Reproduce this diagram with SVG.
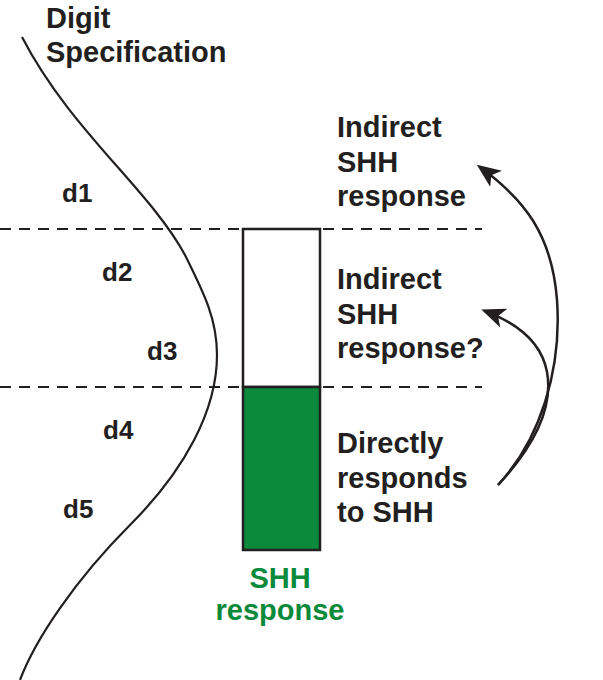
<svg xmlns="http://www.w3.org/2000/svg" width="603" height="680" viewBox="0 0 603 680">
<style>
text{font-family:"Liberation Sans",Arial,sans-serif;font-weight:bold;fill:#231f20}
.lbl{font-size:29px}
.d{font-size:26px}
.green{fill:#0b8a3c}
.dash{stroke:#231f20;stroke-width:2;stroke-dasharray:11 8;fill:none}
.conn{stroke:#231f20;stroke-width:2.5;fill:none}
</style>
<defs>
<marker id="ah" viewBox="0 0 24 20" refX="20" refY="10" markerWidth="24" markerHeight="20" markerUnits="userSpaceOnUse" orient="auto">
<path d="M0,0 L24,10 L0,20 L6,10 Z" fill="#231f20"/>
</marker>
</defs>
<g id="curve">
<path d="M22,37 C70,130 150,190 185,255 C205,295 217,320 217,355 C217,410 185,470 130,525 S35,640 20,680" fill="none" stroke="#231f20" stroke-width="2.2"/>
</g>
<g id="title">
<text class="lbl" x="46" y="28">Digit</text>
<text class="lbl" x="46" y="62">Specification</text>
</g>
<g id="digits">
<text class="d" x="62" y="202">d1</text>
<text class="d" x="102" y="281">d2</text>
<text class="d" x="147" y="360">d3</text>
<text class="d" x="103" y="439">d4</text>
<text class="d" x="63" y="518">d5</text>
</g>
<g id="bar">
<rect x="243" y="229" width="77" height="158" fill="#fff" stroke="#231f20" stroke-width="2.5"/>
<rect x="243" y="387" width="77" height="163" fill="#0b8a3c" stroke="#231f20" stroke-width="2.5"/>
</g>
<g id="dashes">
<line class="dash" x1="0" y1="229" x2="482" y2="229"/>
<line class="dash" x1="0" y1="387" x2="482" y2="387"/>
</g>
<g id="label-indirect">
<text class="lbl" x="337" y="137">Indirect</text>
<text class="lbl" x="337" y="172">SHH</text>
<text class="lbl" x="337" y="206">response</text>
</g>
<g id="label-indirect-q">
<text class="lbl" x="337" y="289">Indirect</text>
<text class="lbl" x="337" y="324">SHH</text>
<text class="lbl" x="337" y="358">response?</text>
</g>
<g id="label-direct">
<text class="lbl" x="337" y="453">Directly</text>
<text class="lbl" x="337" y="488">responds</text>
<text class="lbl" x="337" y="522">to SHH</text>
</g>
<g id="shh-response">
<text class="lbl green" x="280" y="588" text-anchor="middle">SHH</text>
<text class="lbl green" x="280" y="620" text-anchor="middle">response</text>
</g>
<g id="connectors">
<path class="conn" d="M498,485 C540,440 562,370 557,300 C552,235 525,200 480,167" marker-end="url(#ah)"/>
<path class="conn" d="M498,485 C538,442 553,405 547,372 C542,345 522,325 485,311" marker-end="url(#ah)"/>
</g>
</svg>
